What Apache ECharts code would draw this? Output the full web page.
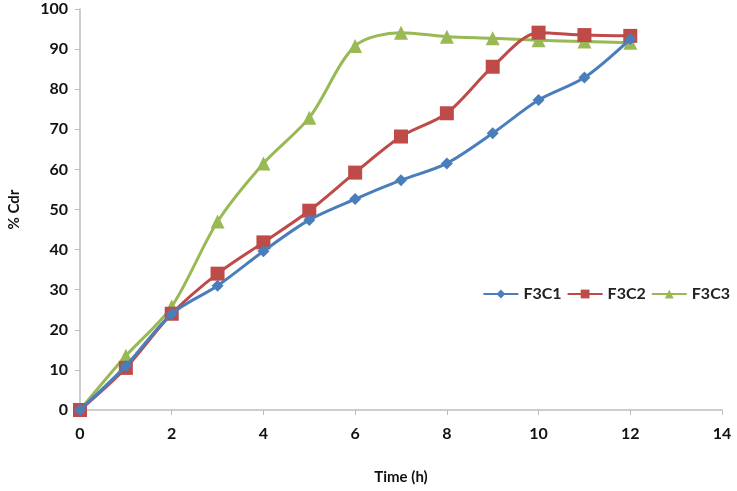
<!DOCTYPE html>
<html><head><meta charset="utf-8">
<script src="https://cdn.jsdelivr.net/npm/echarts@6/dist/echarts.min.js"></script>
<style>html,body{margin:0;padding:0;background:#fff}#c{width:737px;height:491px}</style>
</head><body><div id="c"></div>
<script>
var times = [0,1,2,3,4,5,6,7,8,9,10,11,12];
var f3c1 = [0,11,24,31,39.6,47.4,52.6,57.3,61.5,69,77.3,82.9,92.5];
var f3c2 = [0,10.5,24,34,41.8,49.7,59.2,68.2,74,85.6,94.1,93.5,93.3];
var f3c3 = [0,13.5,25.8,47,61.5,72.9,90.8,94.1,93.1,92.7,92.2,91.9,91.6];
var seriesNames = ['F3C1','F3C2','F3C3'];
var colors = ['#4a7ebb','#be4b48','#98b954'];
var symbols = ['diamond','rect','triangle'];
var dataSets = [f3c1,f3c2,f3c3];
var font = 'Lato';
var chart = echarts.init(document.getElementById('c'));
chart.setOption({
  animation:false,
  grid:{left:80,right:15,top:9,bottom:81,containLabel:false,outerBoundsMode:'none'},
  legend:{
    right:2, top:281, orient:'horizontal', itemWidth:35, itemHeight:11, itemGap:5,
    textStyle:{fontFamily:font,fontWeight:'bold',fontSize:16,color:'#222'},
    data:seriesNames
  },
  xAxis:{type:'value',min:0,max:14,interval:2,
    name:'Time (h)',nameLocation:'middle',nameGap:60,
    nameTextStyle:{fontFamily:font,fontWeight:'bold',fontSize:15,color:'#111'},
    axisLine:{lineStyle:{color:'#bdbdbd',width:1.5}},
    axisTick:{show:true,inside:false,length:5,lineStyle:{color:'#bdbdbd'}},
    axisLabel:{fontFamily:font,fontWeight:'bold',fontSize:16,color:'#111',margin:16},
    splitLine:{show:false}},
  yAxis:{type:'value',min:0,max:100,interval:10,
    name:'% Cdr',nameLocation:'middle',nameGap:58,nameRotate:90,
    nameTextStyle:{fontFamily:font,fontWeight:'bold',fontSize:15,color:'#111'},
    axisLine:{show:true,lineStyle:{color:'#bdbdbd',width:1.5}},
    axisTick:{show:true,inside:false,length:5,lineStyle:{color:'#bdbdbd'}},
    axisLabel:{fontFamily:font,fontWeight:'bold',fontSize:16,color:'#111',margin:12},
    splitLine:{show:false}},
  series: dataSets.map(function(d,i){
    return {
      name:seriesNames[i], type:'line', smooth:0.3,
      data: times.map(function(t,j){return [t,d[j]];}),
      symbol:symbols[i], symbolSize: i===0?12:14,
      lineStyle:{color:colors[i],width:3},
      itemStyle:{color:colors[i]},
      z: 3-i
    };
  })
});
</script></body></html>
